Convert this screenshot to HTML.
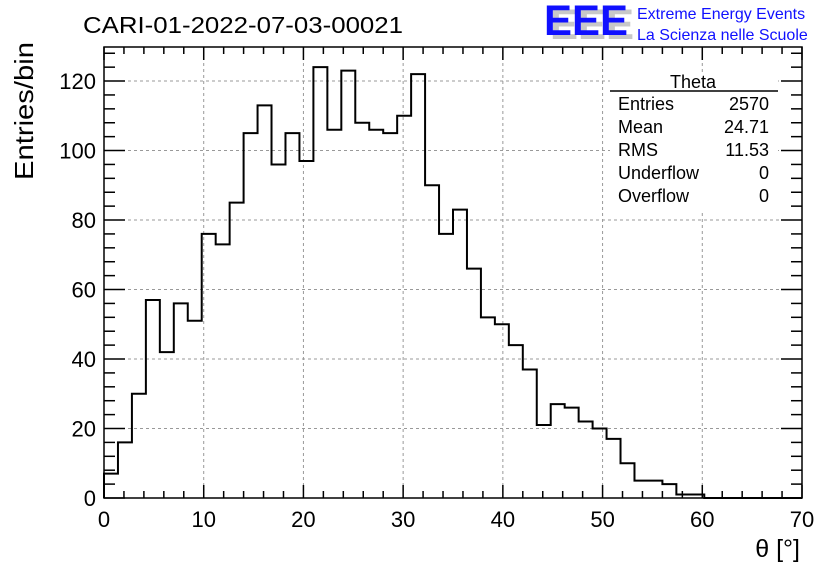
<!DOCTYPE html>
<html><head><meta charset="utf-8"><style>
body{margin:0;background:#fff}
svg{display:block;font-family:"Liberation Sans",sans-serif}
</style></head><body>
<svg id="c" width="836" height="572" viewBox="0 0 836 572">
<text x="83" y="33" font-size="23" textLength="320" lengthAdjust="spacingAndGlyphs">CARI-01-2022-07-03-00021</text>
<text x="550" y="39" font-size="43" fill="#c8c8c8" font-weight="bold" textLength="84" lengthAdjust="spacingAndGlyphs">EEE</text>
<text x="544" y="35" font-size="43" fill="#1010ff" font-weight="bold" textLength="84" lengthAdjust="spacingAndGlyphs">EEE</text>
<text x="637" y="19" font-size="16" fill="#1010ff">Extreme Energy Events</text>
<text x="637" y="40" font-size="16" fill="#1010ff">La Scienza nelle Scuole</text>
<text transform="translate(33,180) rotate(-90)" font-size="26" textLength="138" lengthAdjust="spacingAndGlyphs">Entries/bin</text>
<text x="800" y="557" font-size="25" text-anchor="end">θ [°]</text>
<g id="grid"></g><g id="ticks"></g><g id="bars"></g>
<rect x="104" y="47" width="698" height="451" fill="none" stroke="#000" stroke-width="1.5"/>
<g font-size="18">
<rect x="610" y="74" width="168" height="136" fill="#fff"/>
<text x="693" y="88" text-anchor="middle">Theta</text>
<line x1="610" y1="91" x2="778" y2="91" stroke="#000" stroke-width="1.5"/>
<text x="618" y="110">Entries</text><text x="769" y="110" text-anchor="end">2570</text>
<text x="618" y="133">Mean</text><text x="769" y="133" text-anchor="end">24.71</text>
<text x="618" y="156">RMS</text><text x="769" y="156" text-anchor="end">11.53</text>
<text x="618" y="179">Underflow</text><text x="769" y="179" text-anchor="end">0</text>
<text x="618" y="202">Overflow</text><text x="769" y="202" text-anchor="end">0</text>
</g>
</svg>
<script>
const counts=[7,16,30,57,42,56,51,76,73,85,105,113,96,105,97,124,106,123,108,106,105,110,122,90,76,83,66,52,50,44,37,21,27,26,22,20,17,10,5,5,4,1,1,0,0,0,0,0,0,0];
const xTicks=[0,10,20,30,40,50,60,70];
const yTicks=[0,20,40,60,80,100,120];
const binW=1.4;
const NS="http://www.w3.org/2000/svg";
const X0=104,X1=802,Y0=498,Y1=47;
const xs=v=>X0+(v/70)*(X1-X0);
const ys=v=>Y0-(v/129.8)*(Y0-Y1);
function mk(t,a,p){const e=document.createElementNS(NS,t);for(const k in a)e.setAttribute(k,a[k]);p.appendChild(e);return e;}
const grid=document.getElementById('grid'),ticks=document.getElementById('ticks'),bars=document.getElementById('bars');
xTicks.forEach(v=>{
  if(v>0&&v<70){const g=mk('line',{x1:xs(v),x2:xs(v),y1:Y0,y2:Y1,stroke:'#999','stroke-dasharray':'3,3'},grid);
  
  }
  const t=mk('text',{x:xs(v),y:527,'font-size':22,'text-anchor':'middle'},ticks);t.textContent=v;
  
  
});
for(let v=0;v<=70;v+=2){const L=(v%10===0)?13:7;
  mk('line',{x1:xs(v),x2:xs(v),y1:Y0,y2:Y0-L,stroke:'#000','stroke-width':1.5},ticks);
  mk('line',{x1:xs(v),x2:xs(v),y1:Y1,y2:Y1+L,stroke:'#000','stroke-width':1.5},ticks);}
yTicks.forEach(v=>{
  if(v>0){const g=mk('line',{x1:X0,x2:X1,y1:ys(v),y2:ys(v),stroke:'#999','stroke-dasharray':'3,3'},grid);
  
  }
  const t=mk('text',{x:96,y:ys(v)+8,'font-size':22,'text-anchor':'end'},ticks);t.textContent=v;
  
  
});
for(let v=0;v<=128;v+=4){const L=(v%20===0)?21:11;
  mk('line',{x1:X0,x2:X0+L,y1:ys(v),y2:ys(v),stroke:'#000','stroke-width':1.5},ticks);
  mk('line',{x1:X1,x2:X1-L,y1:ys(v),y2:ys(v),stroke:'#000','stroke-width':1.5},ticks);}
let d='M'+xs(0)+','+ys(0);
counts.forEach((c,i)=>{d+=' L'+xs(i*binW)+','+ys(c)+' L'+xs((i+1)*binW)+','+ys(c);});
d+=' L'+xs(70)+','+ys(0);
const p=mk('path',{d:d,fill:'none',stroke:'#000','stroke-width':2},bars);


</script>
</body></html>
